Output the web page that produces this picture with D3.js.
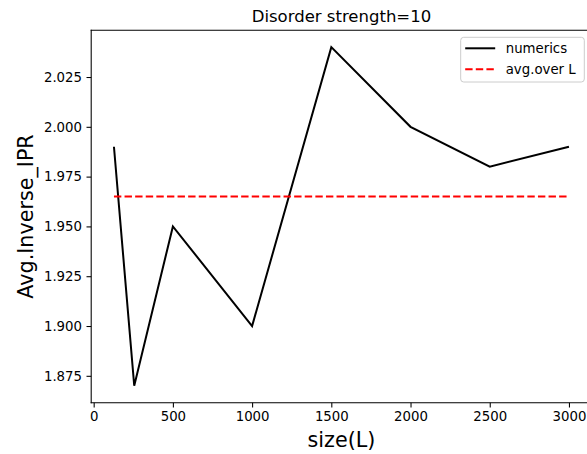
<!DOCTYPE html>
<html>
<head>
<meta charset="utf-8">
<script src="https://cdn.jsdelivr.net/npm/d3@7"></script>
<style>
  body { margin: 0; background: #fff; overflow: hidden; }
  svg { display: block; font-family: "DejaVu Sans", sans-serif; overflow: hidden; }
</style>
</head>
<body>
<div id="chart"></div>
<script>
// Data
var sizes = [128, 256, 500, 1000, 1500, 2000, 2500, 3000];
var invIPR = [1.99, 1.87, 1.95, 1.90, 2.04, 2.00, 1.98, 1.99];
var avgOverL = [1.965, 1.965];
var xTicks = [0, 500, 1000, 1500, 2000, 2500, 3000];
var yTicks = [1.875, 1.900, 1.925, 1.950, 1.975, 2.000, 2.025];
var seriesNames = ["numerics", "avg.over L"];

var totWidth = 587, totHeight = 454;
var plot = {left: 91.2, right: 591.7, top: 30.2, bottom: 402.7};

var svg = d3.select("#chart").append("svg")
  .attr("width", totWidth)
  .attr("height", totHeight);

// matplotlib-like 5% padding on both axes
var xExt = d3.extent(sizes), yExt = d3.extent(invIPR);
var xPad = (xExt[1] - xExt[0]) * 0.05, yPad = (yExt[1] - yExt[0]) * 0.05;

var x = d3.scaleLinear()
  .domain([xExt[0] - xPad, xExt[1] + xPad])
  .range([plot.left, plot.right]);
var y = d3.scaleLinear()
  .domain([yExt[0] - yPad, yExt[1] + yPad])
  .range([plot.bottom, plot.top]);

// Axes
var xAxis = svg.append("g")
  .attr("transform", "translate(0," + plot.bottom + ")")
  .call(d3.axisBottom(x).tickValues(xTicks).tickSize(4.7).tickPadding(4.5)
    .tickFormat(d3.format("d")));
var yAxis = svg.append("g")
  .attr("transform", "translate(" + plot.left + ",0)")
  .call(d3.axisLeft(y).tickValues(yTicks).tickSize(4.7).tickPadding(4.5)
    .tickFormat(d3.format(".3f")));

[xAxis, yAxis].forEach(function(a) {
  a.select(".domain").remove();
  a.selectAll(".tick line").attr("stroke", "#000").attr("stroke-width", 1.07);
  a.selectAll(".tick text")
    .attr("fill", "#000")
    .style("font-size", "13.3px")
    .style("font-family", "DejaVu Sans");
});

// Spines (right one falls outside the cropped figure)
var spines = [
  [plot.left, plot.top, plot.right, plot.top],
  [plot.left, plot.bottom, plot.right, plot.bottom],
  [plot.left, plot.top, plot.left, plot.bottom]
];
svg.selectAll(".spine")
  .data(spines)
  .enter().append("line")
    .attr("class", "spine")
    .attr("x1", function(d) { return d[0]; })
    .attr("y1", function(d) { return d[1]; })
    .attr("x2", function(d) { return d[2]; })
    .attr("y2", function(d) { return d[3]; })
    .attr("stroke", "#000")
    .attr("stroke-width", 1.07)
    .attr("stroke-linecap", "square");

// numerics line
var line = d3.line()
  .x(function(d, i) { return x(sizes[i]); })
  .y(function(d) { return y(d); });

svg.append("path")
  .datum(invIPR)
  .attr("d", line)
  .attr("fill", "none")
  .attr("stroke", "#000")
  .attr("stroke-width", 2)
  .attr("stroke-linejoin", "miter");

// average line
svg.append("line")
  .attr("x1", x(xExt[0]))
  .attr("x2", x(xExt[1]))
  .attr("y1", y(avgOverL[0]))
  .attr("y2", y(avgOverL[1]))
  .attr("stroke", "#ff0000")
  .attr("stroke-width", 2)
  .attr("stroke-dasharray", "7.4,3.2");

// Title
svg.append("text")
  .attr("x", (plot.left + plot.right) / 2)
  .attr("y", 22)
  .attr("text-anchor", "middle")
  .style("font-size", "16.5px")
  .text("Disorder strength=10");

// Axis labels
svg.append("text")
  .attr("x", (plot.left + plot.right) / 2)
  .attr("y", 446.5)
  .attr("text-anchor", "middle")
  .style("font-size", "20.7px")
  .text("size(L)");

svg.append("text")
  .attr("transform", "translate(32.5," + ((plot.top + plot.bottom) / 2) + ") rotate(-90)")
  .attr("text-anchor", "middle")
  .style("font-size", "20.7px")
  .text("Avg.Inverse_IPR");

// Legend
var legend = svg.append("g").attr("transform", "translate(460.7,37.3)");
legend.append("rect")
  .attr("width", 123.6)
  .attr("height", 44.7)
  .attr("rx", 3)
  .attr("fill", "#fff")
  .attr("fill-opacity", 0.8)
  .attr("stroke", "#cccccc")
  .attr("stroke-width", 1);

var styles = [{color: "#000", dash: null}, {color: "#ff0000", dash: "7.4,3.2"}];
seriesNames.forEach(function(name, i) {
  var yy = 11 + i * 21;
  legend.append("line")
    .attr("x1", 4.5).attr("x2", 34.5)
    .attr("y1", yy).attr("y2", yy)
    .attr("stroke", styles[i].color)
    .attr("stroke-width", 2)
    .attr("stroke-dasharray", styles[i].dash);
  legend.append("text")
    .attr("x", 45)
    .attr("y", yy + 4.8)
    .style("font-size", "13.3px")
    .text(name);
});
</script>
</body>
</html>
